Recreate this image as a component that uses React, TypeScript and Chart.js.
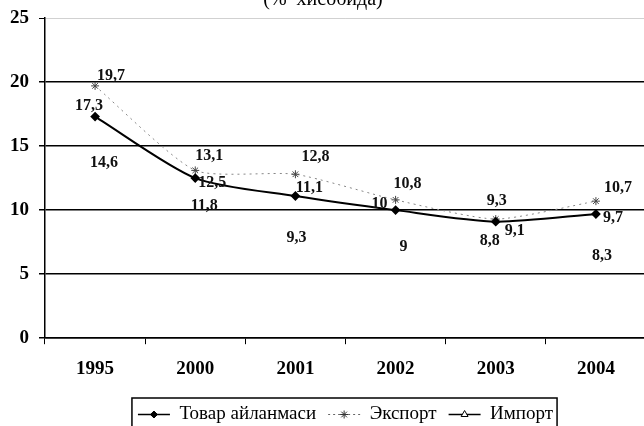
import React, { useEffect, useRef } from 'react';
import { Chart, registerables } from 'chart.js';
import { drawPoint } from 'chart.js/helpers';

Chart.register(...registerables);

const categories = ['1995', '2000', '2001', '2002', '2003', '2004'];
const turnover = [17.3, 12.5, 11.1, 10, 9.1, 9.7];
const exportVals = [19.7, 13.1, 12.8, 10.8, 9.3, 10.7];
const importVals = [14.6, 11.8, 9.3, 9, 8.8, 8.3];
const yTicks = [0, 5, 10, 15, 20, 25];
const seriesNames = ['Товар айланмаси', 'Экспорт', 'Импорт'];
const titleText = '(%  хисобида)';

// label placement relative to each point (style only)
const labelOffsets = [
  [[-6, -11], [17, 5], [14, -8], [-16, -6], [19, 9], [17, 4]],
  [[16, -10], [14, -15], [20, -17], [12, -16], [1, -18], [22, -13]],
  [[9, 12], [9, 19], [1, 19], [8, 24], [-6, 15], [6, 24]],
];

const FONT = "'Liberation Serif', 'Times New Roman', serif";

const legendSymbols = [
  { style: 'rectRot', radius: 3.5, fill: '#000', stroke: '#000', line: '#000', lineWidth: 1.5, dash: [] as number[] },
  { style: 'star', radius: 4, fill: '#000', stroke: '#333', line: '#666', lineWidth: 1, dash: [2, 3] },
  { style: 'triangle', radius: 4, fill: '#fff', stroke: '#000', line: '#000', lineWidth: 1.5, dash: [] as number[] },
];

const valueLabelPlugin = {
  id: 'valueLabels',
  afterDatasetsDraw(chart: any) {
    const ctx = chart.ctx;
    ctx.save();
    ctx.font = `bold 16px ${FONT}`;
    ctx.fillStyle = '#111';
    ctx.textAlign = 'center';
    ctx.textBaseline = 'middle';
    chart.data.datasets.forEach((ds: any, i: number) => {
      const meta = chart.getDatasetMeta(i);
      meta.data.forEach((el: any, j: number) => {
        const v = ds.data[j];
        const [dx, dy] = labelOffsets[i][j];
        ctx.fillText(String(v).replace('.', ','), el.x + dx, el.y + dy);
      });
    });
    ctx.restore();
  },
};

const legendDecorPlugin = {
  id: 'legendDecor',
  afterDraw(chart: any) {
    const legend = chart.legend;
    if (!legend || !legend.legendHitBoxes || !legend.legendHitBoxes.length) return;
    const ctx = chart.ctx;
    const boxes = legend.legendHitBoxes;
    const bw = legend.options.labels.boxWidth;
    ctx.save();
    boxes.forEach((hb: any, i: number) => {
      const s = legendSymbols[i];
      const cy = hb.top + hb.height / 2;
      ctx.beginPath();
      ctx.setLineDash(s.dash);
      ctx.strokeStyle = s.line;
      ctx.lineWidth = s.lineWidth;
      ctx.moveTo(hb.left, cy);
      ctx.lineTo(hb.left + bw, cy);
      ctx.stroke();
      ctx.setLineDash([]);
      ctx.fillStyle = s.fill;
      ctx.strokeStyle = s.stroke;
      ctx.lineWidth = 1;
      drawPoint(ctx, { pointStyle: s.style as any, radius: s.radius, rotation: 0, borderWidth: 1 }, hb.left + bw / 2, cy);
    });
    const first = boxes[0];
    const last = boxes[boxes.length - 1];
    const left = first.left - 6;
    const right = last.left + last.width + 4;
    const top = first.top - 7;
    const bottom = first.top + first.height + 12;
    ctx.strokeStyle = '#000';
    ctx.lineWidth = 1.5;
    ctx.strokeRect(left, top, right - left, bottom - top);
    ctx.restore();
  },
};

export default function App() {
  const ref = useRef<HTMLCanvasElement | null>(null);
  useEffect(() => {
    if (!ref.current) return;
    Chart.defaults.font.family = FONT;
    Chart.defaults.color = '#000';
    const chart = new Chart(ref.current, {
      type: 'line',
      data: {
        labels: categories,
        datasets: [
          {
            label: seriesNames[0],
            data: turnover,
            borderColor: '#000',
            borderWidth: 2,
            pointStyle: 'rectRot',
            pointRadius: 3.5,
            pointBackgroundColor: '#000',
            pointBorderColor: '#000',
            tension: 0.25,
          },
          {
            label: seriesNames[1],
            data: exportVals,
            borderColor: '#888',
            borderWidth: 1,
            borderDash: [2, 4],
            pointStyle: 'star',
            pointRadius: 4,
            pointBorderColor: '#444',
            pointBorderWidth: 1,
            tension: 0.2,
          },
          {
            label: seriesNames[2],
            data: importVals,
            borderColor: '#000',
            showLine: false,
            pointRadius: 0,
          },
        ],
      },
      options: {
        animation: false,
        responsive: true,
        maintainAspectRatio: false,
        layout: { padding: { left: 0, right: 44, top: 0, bottom: 0 } },
        plugins: {
          tooltip: { enabled: false },
          title: {
            display: true,
            text: titleText,
            color: '#000',
            font: { size: 20, weight: 'normal', family: FONT },
            padding: { top: -3, bottom: 6 },
          },
          legend: {
            position: 'bottom',
            fullSize: false,
            labels: {
              boxWidth: 32,
              boxHeight: 10,
              padding: 12,
              color: '#000',
              font: { size: 19, family: FONT },
              generateLabels: (c: any) =>
                Chart.defaults.plugins.legend.labels.generateLabels(c).map((l: any) => ({
                  ...l,
                  fillStyle: 'rgba(0,0,0,0)',
                  strokeStyle: 'rgba(0,0,0,0)',
                  lineWidth: 0,
                  hidden: false,
                })),
            },
          },
        },
        scales: {
          x: {
            type: 'category',
            offset: true,
            grid: {
              display: true,
              drawOnChartArea: false,
              drawTicks: true,
              tickLength: 6,
              color: '#000',
              offset: true,
            },
            border: { display: true, color: '#000', width: 1.5 },
            ticks: {
              color: '#000',
              padding: 13,
              maxRotation: 0,
              font: { size: 19, weight: 'bold', family: FONT },
            },
          },
          y: {
            min: 0,
            max: 25,
            afterBuildTicks: (scale: any) => {
              scale.ticks = yTicks.map((v) => ({ value: v }));
            },
            grid: {
              drawTicks: true,
              tickLength: 6,
              tickColor: '#000',
              color: (c: any) => (c.tick && c.tick.value === 25 ? 'rgba(0,0,0,0.18)' : '#000'),
              lineWidth: (c: any) => (c.tick && c.tick.value === 25 ? 1 : 1.5),
            },
            border: { display: true, color: '#000', width: 1.5 },
            ticks: {
              color: '#000',
              padding: 10,
              font: { size: 19, weight: 'bold', family: FONT },
            },
          },
        },
      },
      plugins: [valueLabelPlugin, legendDecorPlugin],
    } as any);
    return () => chart.destroy();
  }, []);

  return (
    <div style={{ position: 'fixed', left: 0, top: 0, width: 644, height: 426, overflow: 'hidden', background: '#fff' }}>
      <div style={{ position: 'absolute', left: 0, top: -9, width: 690, height: 443 }}>
        <canvas ref={ref} />
      </div>
    </div>
  );
}
